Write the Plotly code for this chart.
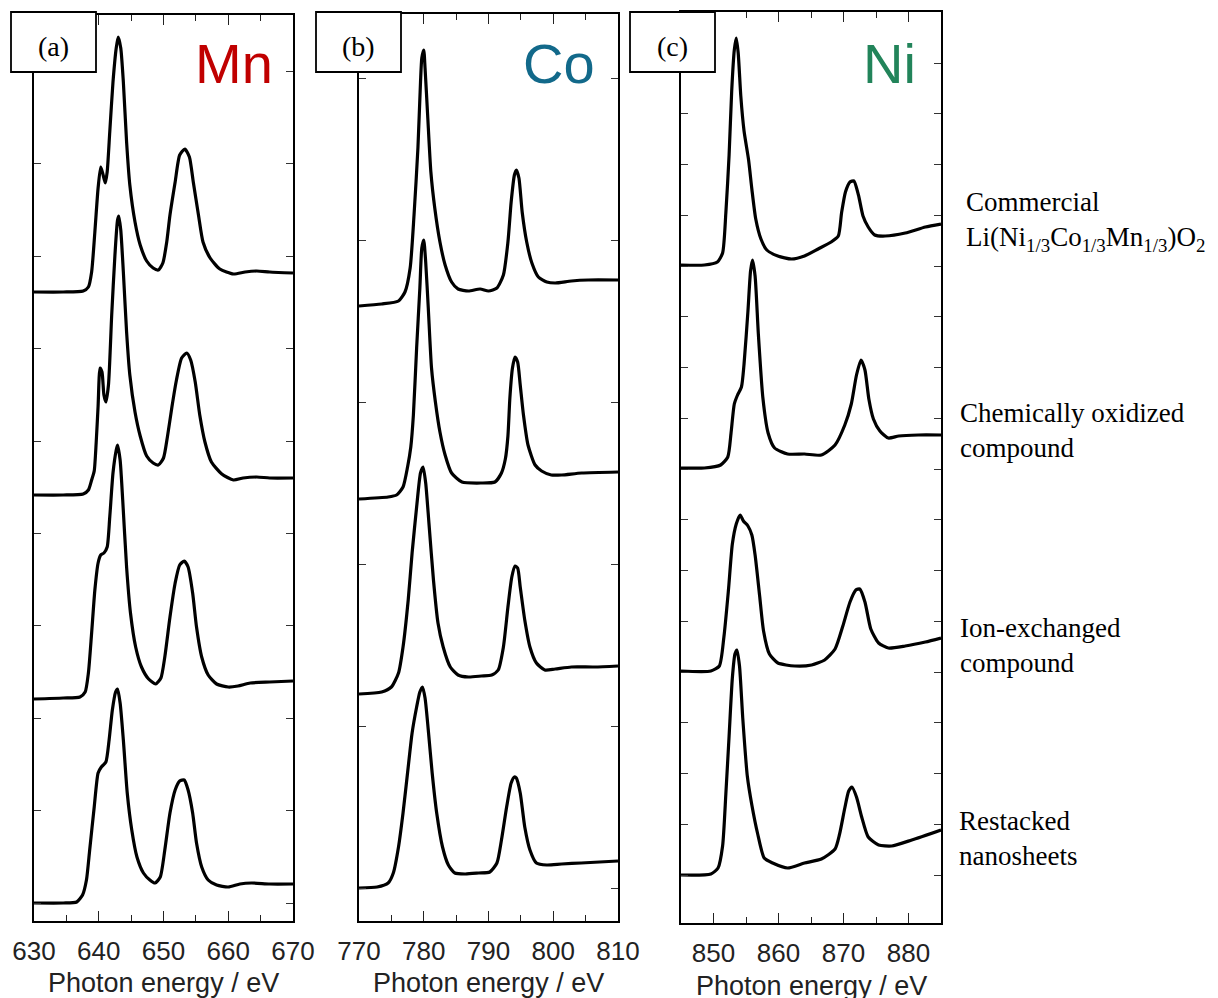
import plotly.graph_objects as go

# ---------------- data (photon energy / eV, intensity in arbitrary units incl. vertical offset) -------------
samples = ["Commercial", "Chemically oxidized", "Ion-exchanged", "Restacked"]

mn_e1 = [630.0, 634.5, 637.6, 638.4, 638.9, 639.4, 639.9, 640.3, 640.6, 641.0, 641.3, 641.7, 642.2, 642.7, 643.0, 643.4, 643.8, 644.3, 644.8, 645.6, 646.4, 647.4, 648.4, 649.2, 649.9, 650.5, 651.0, 651.8, 652.5, 653.3, 654.0, 654.6, 655.4, 656.1, 657.2, 658.7, 660.8, 662.6, 664.4, 666.4, 670.0]
mn_i1 = [629, 629, 630, 634, 649, 689, 733, 754, 748, 738, 749, 789, 839, 873, 884, 873, 839, 779, 736, 699, 676, 660, 653, 651, 658, 679, 706, 739, 766, 772, 764, 739, 706, 679, 663, 652, 647, 649, 650, 649, 648]
mn_e2 = [630.0, 634.5, 637.6, 638.4, 638.9, 639.3, 639.6, 639.9, 640.2, 640.5, 640.8, 641.1, 641.5, 642.0, 642.5, 642.9, 643.1, 643.4, 643.8, 644.3, 644.8, 645.6, 646.4, 647.4, 648.4, 649.2, 650.0, 650.6, 651.3, 652.0, 652.8, 653.6, 654.2, 654.9, 655.6, 656.4, 657.4, 659.0, 660.8, 662.3, 664.4, 666.4, 670.0]
mn_i2 = [426, 426, 427, 431, 441, 450, 478, 515, 553, 549, 526, 519, 536, 606, 666, 701, 705, 691, 649, 589, 546, 509, 485, 465, 458, 456, 463, 484, 514, 541, 563, 568, 561, 539, 506, 479, 459, 447, 441, 443, 444, 443, 443]
mn_e3 = [630.0, 634.5, 637.1, 637.9, 638.4, 638.9, 639.4, 639.9, 640.3, 640.8, 641.3, 641.7, 642.2, 642.7, 642.9, 643.3, 643.7, 644.3, 644.9, 645.7, 646.6, 647.7, 648.8, 649.6, 650.2, 651.0, 651.8, 652.5, 653.2, 653.8, 654.5, 655.1, 655.9, 656.9, 658.2, 660.0, 661.5, 663.4, 666.4, 670.0]
mn_i3 = [222, 223, 224, 229, 248, 288, 331, 358, 366, 368, 374, 404, 448, 471, 476, 461, 421, 354, 308, 274, 254, 242, 237, 243, 264, 304, 338, 356, 360, 354, 328, 294, 264, 246, 237, 234, 235, 238, 239, 240]
mn_e4 = [630.0, 634.5, 636.6, 637.5, 638.1, 638.6, 639.3, 639.9, 640.4, 641.1, 641.6, 642.1, 642.6, 642.9, 643.3, 643.8, 644.4, 645.1, 645.9, 646.9, 647.9, 648.7, 649.5, 650.2, 651.0, 651.8, 652.5, 653.2, 653.8, 654.5, 655.1, 655.9, 656.9, 658.2, 660.0, 661.8, 663.6, 666.4, 670.0]
mn_i4 = [18, 18, 19, 26, 41, 71, 114, 148, 154, 159, 181, 211, 229, 232, 218, 181, 128, 91, 64, 48, 41, 38, 44, 71, 108, 131, 140, 141, 131, 108, 78, 54, 41, 36, 34, 37, 38, 37, 37]

co_e1 = [770.0, 773.5, 776.1, 777.1, 777.9, 778.5, 779.1, 779.5, 779.7, 780.0, 780.2, 780.6, 781.1, 781.7, 782.5, 783.3, 784.3, 785.3, 786.9, 788.7, 790.0, 791.3, 792.3, 793.0, 793.5, 794.0, 794.3, 794.7, 795.2, 795.9, 796.7, 797.7, 799.0, 800.3, 802.8, 805.4, 810.0]
co_i1 = [615, 617, 620, 629, 653, 706, 773, 839, 863, 871, 853, 806, 749, 713, 679, 656, 639, 632, 630, 632, 630, 633, 646, 679, 719, 746, 751, 743, 709, 679, 658, 644, 639, 638, 640, 641, 641]
co_e2 = [770.0, 774.5, 775.8, 776.8, 777.5, 778.0, 778.4, 778.9, 779.4, 779.7, 780.0, 780.3, 780.7, 781.2, 781.8, 782.5, 783.3, 784.3, 785.9, 788.9, 791.0, 792.0, 792.6, 793.0, 793.3, 793.7, 794.1, 794.5, 794.9, 795.4, 796.1, 797.2, 798.2, 799.7, 801.3, 804.4, 810.0]
co_i2 = [422, 424, 426, 434, 454, 474, 506, 573, 633, 673, 681, 659, 613, 553, 519, 489, 466, 448, 439, 438, 439, 448, 462, 485, 523, 553, 564, 559, 536, 506, 476, 456, 450, 446, 446, 448, 449]
co_e3 = [770.0, 773.5, 775.0, 776.1, 776.8, 777.6, 778.2, 778.9, 779.5, 779.9, 780.3, 780.8, 781.5, 782.2, 783.0, 784.1, 785.3, 786.9, 788.9, 790.5, 791.5, 792.3, 793.0, 793.6, 794.1, 794.5, 794.9, 795.6, 796.4, 797.4, 798.7, 800.3, 802.8, 806.4, 810.0]
co_i3 = [227, 229, 234, 248, 274, 321, 368, 414, 448, 454, 438, 398, 341, 298, 274, 254, 246, 244, 245, 246, 251, 274, 314, 344, 355, 353, 334, 301, 274, 258, 251, 252, 254, 254, 255]
co_e4 = [770.0, 772.8, 774.5, 775.3, 776.1, 776.8, 777.6, 778.2, 778.9, 779.4, 779.8, 780.2, 780.7, 781.3, 782.0, 782.9, 783.8, 784.8, 786.4, 788.5, 790.2, 791.3, 792.0, 792.8, 793.5, 794.0, 794.3, 794.9, 795.6, 796.4, 797.4, 799.0, 801.3, 804.3, 810.0]
co_i4 = [33, 34, 38, 48, 74, 108, 154, 188, 214, 229, 234, 223, 191, 148, 108, 74, 56, 48, 47, 48, 49, 58, 81, 114, 138, 144, 143, 128, 94, 71, 58, 56, 57, 58, 60]

ni_e1 = [845.0, 848.6, 850.6, 851.4, 851.9, 852.4, 852.8, 853.2, 853.5, 853.8, 854.2, 854.7, 855.4, 855.9, 856.5, 857.3, 858.2, 859.9, 862.0, 864.0, 866.1, 868.1, 869.2, 869.7, 870.3, 871.0, 871.6, 872.3, 873.0, 873.8, 874.8, 876.4, 879.5, 882.6, 885.0]
ni_i1 = [658, 658, 661, 670, 710, 768, 832, 873, 885, 870, 827, 792, 763, 734, 704, 684, 673, 667, 664, 667, 674, 681, 687, 710, 731, 741, 742, 728, 707, 696, 688, 687, 690, 696, 699]
ni_e2 = [845.0, 848.6, 851.1, 852.2, 852.7, 853.2, 853.7, 854.3, 854.7, 855.3, 855.7, 856.0, 856.4, 856.9, 857.6, 858.4, 859.4, 861.4, 864.0, 866.6, 868.7, 870.2, 871.2, 872.0, 872.7, 873.3, 873.9, 874.6, 875.6, 876.9, 878.5, 881.5, 885.0]
ni_i2 = [455, 455, 458, 466, 490, 519, 528, 536, 559, 612, 652, 663, 647, 589, 525, 490, 475, 469, 469, 468, 478, 498, 519, 548, 563, 553, 524, 504, 492, 485, 487, 488, 488]
ni_e3 = [845.0, 849.6, 850.9, 851.6, 852.3, 852.9, 853.5, 854.1, 854.6, 855.3, 855.9, 856.4, 857.1, 857.7, 858.6, 859.9, 862.5, 865.1, 867.1, 868.7, 869.9, 871.0, 871.9, 872.5, 873.3, 874.2, 875.4, 876.9, 879.5, 882.6, 885.0]
ni_i3 = [252, 252, 257, 286, 333, 379, 399, 408, 402, 397, 388, 368, 327, 292, 269, 260, 257, 258, 263, 274, 297, 321, 333, 334, 321, 294, 280, 275, 277, 281, 285]
ni_e4 = [845.0, 849.6, 850.7, 851.4, 851.9, 852.4, 852.9, 853.3, 853.6, 854.0, 854.5, 855.2, 855.9, 856.8, 857.8, 859.1, 861.4, 864.0, 866.6, 868.7, 869.4, 870.2, 870.8, 871.3, 872.0, 872.8, 873.8, 875.4, 877.4, 880.5, 885.0]
ni_i4 = [48, 49, 55, 77, 129, 187, 245, 269, 273, 257, 205, 147, 118, 89, 65, 60, 55, 60, 64, 74, 89, 115, 132, 136, 126, 106, 86, 78, 77, 83, 93]

x_ranges = [[630, 670], [770, 810], [845, 885]]
x_ticks = [[630, 640, 650, 660, 670], [770, 780, 790, 800, 810], [850, 860, 870, 880]]
elements = ["Mn", "Co", "Ni"]
panel_labels = ["(a)", "(b)", "(c)"]
sample_labels = [
    "Commercial<br>Li(Ni<sub>1/3</sub>Co<sub>1/3</sub>Mn<sub>1/3</sub>)O<sub>2</sub>",
    "Chemically oxidized<br>compound",
    "Ion-exchanged<br>compound",
    "Restacked<br>nanosheets",
]

# ---------------- layout constants ----------------
W, H = 1218, 998
panels_px = [  # left, right, top, bottom (pixels)
    (34, 293, 15, 921),
    (359, 618, 14, 921),
    (681, 941, 12, 923),
]
elem_colors = ["#C00000", "#12698A", "#22845A"]
elem_right_px = [275, 597, 918]
ytick = [(18, 92.4), (33, 162), (48, 50.75)]
label_boxes = [(11, 96), (316, 401), (630, 715)]
sample_label_pos = [(964, 221), (958, 430), (958, 645), (957, 838)]
title_y_px = [983, 983, 986]

series = [
    [(mn_e1, mn_i1), (mn_e2, mn_i2), (mn_e3, mn_i3), (mn_e4, mn_i4)],
    [(co_e1, co_i1), (co_e2, co_i2), (co_e3, co_i3), (co_e4, co_i4)],
    [(ni_e1, ni_i1), (ni_e2, ni_i2), (ni_e3, ni_i3), (ni_e4, ni_i4)],
]

fig = go.Figure()

def px_x(v):
    return v / W

def px_y(v):
    return 1 - v / H

annotations = []
shapes = []
for k in range(3):
    xa = "x" if k == 0 else f"x{k+1}"
    ya = "y" if k == 0 else f"y{k+1}"
    for j, (e, i) in enumerate(series[k]):
        fig.add_trace(go.Scatter(x=e, y=i, mode="lines", xaxis=xa, yaxis=ya,
                                 line=dict(color="black", width=3.2, shape="spline", smoothing=0.6),
                                 name=samples[j], showlegend=False, hoverinfo="skip"))
    l, r, t, b = panels_px[k]
    xkey = "xaxis" if k == 0 else f"xaxis{k+1}"
    ykey = "yaxis" if k == 0 else f"yaxis{k+1}"
    fig.update_layout({
        xkey: dict(domain=[px_x(l), px_x(r)], range=x_ranges[k], anchor=ya, automargin=False,
                   tickmode="array", tickvals=x_ticks[k], ticks="inside", ticklen=10,
                   tickwidth=1.2, tickcolor="#222", showline=True, linewidth=2, linecolor="black",
                   mirror="allticks", showgrid=False, zeroline=False,
                   minor=dict(dtick=5, tick0=x_ranges[k][0], ticks="inside", ticklen=6,
                              tickwidth=1.2, tickcolor="#222", showgrid=False),
                   tickfont=dict(family="Liberation Sans, Arial", size=26, color="#222"),
                   ticklabelstandoff=6),
        ykey: dict(domain=[px_y(b), px_y(t)], range=[0, b - t], anchor=xa, automargin=False,
                   tickmode="linear", tick0=ytick[k][0], dtick=ytick[k][1],
                   ticks="inside", ticklen=7, tickwidth=1.2, tickcolor="#333",
                   showticklabels=False, showline=True, linewidth=2, linecolor="black",
                   mirror="allticks", showgrid=False, zeroline=False),
    })
    # axis title
    annotations.append(dict(xref="paper", yref="paper", x=px_x((l + r) / 2), y=px_y(title_y_px[k]),
                            xanchor="center", yanchor="middle", showarrow=False,
                            text="Photon energy / eV",
                            font=dict(family="Liberation Sans, Arial", size=27, color="#222")))
    # element label
    annotations.append(dict(xref="paper", yref="paper", x=px_x(elem_right_px[k]), y=px_y(63),
                            xanchor="right", yanchor="middle", showarrow=False,
                            text=elements[k],
                            font=dict(family="Liberation Sans, Arial", size=56, color=elem_colors[k])))
    # panel label box
    bl, br = label_boxes[k]
    shapes.append(dict(type="rect", xref="paper", yref="paper", layer="above",
                       x0=px_x(bl), x1=px_x(br), y0=px_y(72), y1=px_y(12),
                       fillcolor="white", line=dict(color="black", width=1.8)))
    annotations.append(dict(xref="paper", yref="paper", x=px_x((bl + br) / 2), y=px_y(46),
                            xanchor="center", yanchor="middle", showarrow=False,
                            text=panel_labels[k],
                            font=dict(family="Liberation Serif, Times New Roman", size=28, color="black")))

for j, txt in enumerate(sample_labels):
    sx, sy = sample_label_pos[j]
    annotations.append(dict(xref="paper", yref="paper", x=px_x(sx), y=px_y(sy),
                            xanchor="left", yanchor="middle", showarrow=False, align="left",
                            text=txt,
                            font=dict(family="Liberation Serif, Times New Roman", size=27, color="black")))

fig.update_layout(width=W, height=H, margin=dict(l=0, r=0, t=0, b=0, pad=0, autoexpand=False),
                  paper_bgcolor="white", plot_bgcolor="white",
                  annotations=annotations, shapes=shapes, showlegend=False)

fig.write_html("out.html", config={"displayModeBar": False},
               post_script="document.body.style.margin='0px';document.body.style.overflow='hidden';")
